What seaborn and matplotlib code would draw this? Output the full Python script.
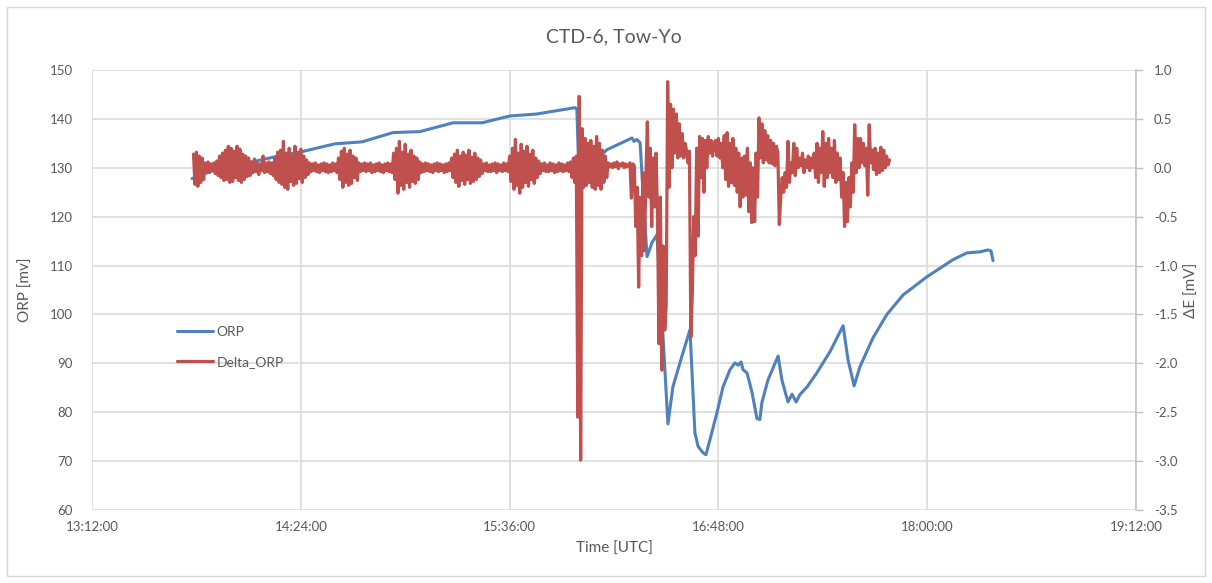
import numpy as np
import pandas as pd
import matplotlib
matplotlib.use("Agg")
import matplotlib.pyplot as plt
from matplotlib.ticker import FuncFormatter
import seaborn as sns

# ---------------- data ----------------
# time axis in minutes of day (13:12 = 792)
orp_time = [826.5, 835.4, 847.2, 858.6, 864.4, 875.8, 885.1, 895.8, 905.1, 916.5,
            926.5, 936.1, 945.4, 958.6, 959.2, 959.9, 962.0, 969.6, 978.2, 978.9,
            979.9, 981.0, 982.0, 983.4, 985.1, 986.8, 987.9, 988.9, 990.6, 992.3,
            995.4, 998.2, 999.9, 1001.0, 1002.7, 1003.7, 1005.1, 1007.5, 1009.6, 1012.0,
            1013.7, 1014.8, 1015.8, 1016.5, 1017.9, 1019.6, 1021.3, 1022.3, 1023.0, 1025.1,
            1028.6, 1029.9, 1031.0, 1032.0, 1033.4, 1034.8, 1036.1, 1038.6, 1042.0, 1046.5,
            1051.0, 1052.7, 1054.8, 1056.8, 1061.3, 1066.1, 1071.7, 1079.9, 1088.9, 1093.7,
            1098.2, 1101.0, 1102.0, 1102.7]
orp_value = [127.8, 129.8, 131.2, 132.7, 133.3, 134.9, 135.3, 137.2, 137.4, 139.2,
             139.2, 140.6, 141.0, 142.3, 141.9, 128.5, 129.5, 133.7, 136.1, 135.4,
             135.8, 135.1, 125.0, 111.8, 114.7, 116.3, 106.0, 95.5, 77.6, 85.2,
             91.4, 96.9, 75.8, 73.0, 71.7, 71.3, 74.4, 79.9, 85.2, 88.7,
             90.1, 89.6, 90.3, 88.7, 88.0, 84.0, 78.7, 78.5, 82.0, 86.6,
             91.5, 86.6, 84.2, 82.1, 83.7, 82.1, 83.6, 85.2, 88.1, 92.4,
             97.7, 90.7, 85.4, 89.3, 95.2, 100.0, 104.0, 107.7, 111.2, 112.6,
             112.8, 113.2, 113.0, 111.0]

# Delta_ORP sampled every 0.5 min from 13:47 (827) to 17:47 (1067)
delta_start = 827.0
delta_step = 0.5
delta_value = [
    0.14, -0.17, 0.16, -0.19, 0.12, -0.15, 0.10, -0.12, 0.05, -0.04, 0.06, -0.05, 0.04, -0.03, 0.05, -0.06, 0.07, -0.08, 0.12, -0.10,
    0.15, -0.13, 0.18, -0.12, 0.22, -0.15, 0.20, -0.14, 0.17, -0.10, 0.22, -0.13, 0.19, -0.15, 0.14, -0.12, 0.12, -0.09, 0.10, -0.08,
    0.06, -0.05, 0.09, -0.04, 0.05, -0.07, 0.04, -0.03, 0.12, -0.05, 0.05, -0.04, 0.06, -0.06, 0.05, -0.08, 0.10, -0.12, 0.16, -0.15,
    0.18, -0.17, 0.27, -0.20, 0.15, -0.22, 0.20, -0.14, 0.12, -0.18, 0.22, -0.16, 0.14, -0.11, 0.19, -0.15, 0.12, -0.10, 0.08, -0.07,
    0.05, -0.04, 0.04, -0.03, 0.05, -0.04, 0.03, -0.05, 0.04, -0.03, 0.05, -0.04, 0.04, -0.05, 0.03, -0.04, 0.05, -0.03, 0.04, -0.05,
    0.10, -0.12, 0.17, -0.20, 0.20, -0.15, 0.14, -0.18, 0.18, -0.16, 0.12, -0.10, 0.10, -0.13, 0.05, -0.04, 0.04, -0.03, 0.05, -0.04,
    0.04, -0.03, 0.05, -0.05, 0.03, -0.04, 0.04, -0.03, 0.05, -0.04, 0.03, -0.05, 0.04, -0.03, 0.05, -0.04, 0.04, -0.05, 0.15, -0.12,
    0.20, -0.26, 0.27, -0.18, 0.16, -0.22, 0.24, -0.15, 0.14, -0.20, 0.18, -0.14, 0.12, -0.16, 0.10, -0.12, 0.06, -0.05, 0.04, -0.04,
    0.05, -0.03, 0.04, -0.04, 0.03, -0.05, 0.04, -0.03, 0.05, -0.04, 0.04, -0.03, 0.03, -0.05, 0.04, -0.04, 0.05, -0.03, 0.10, -0.10,
    0.14, -0.15, 0.18, -0.19, 0.12, -0.13, 0.16, -0.17, 0.13, -0.12, 0.18, -0.16, 0.11, -0.14, 0.15, -0.12, 0.10, -0.09, 0.08, -0.06,
    0.04, -0.03, 0.05, -0.04, 0.03, -0.04, 0.04, -0.03, 0.05, -0.05, 0.04, -0.03, 0.03, -0.04, 0.05, -0.03, 0.04, -0.04, 0.12, -0.14,
    0.20, -0.22, 0.29, -0.18, 0.15, -0.26, 0.24, -0.20, 0.17, -0.15, 0.22, -0.19, 0.14, -0.12, 0.18, -0.16, 0.10, -0.10, 0.07, -0.06,
    0.04, -0.03, 0.05, -0.04, 0.03, -0.04, 0.05, -0.03, 0.04, -0.05, 0.03, -0.04, 0.05, -0.03, 0.04, -0.04, 0.03, -0.03, 0.05, -0.04,
    0.06, -0.10, 0.10, -0.15, 0.12, -2.55, 0.73, -2.99, 0.40, -0.20, 0.30, -0.18, 0.25, -0.15, 0.28, -0.20, 0.22, -0.22, 0.32, -0.18,
    0.25, -0.22, 0.18, -0.15, 0.12, -0.10, 0.05, 0.01, 0.04, 0.00, 0.05, 0.01, 0.06, -0.01, 0.04, 0.02, 0.05, 0.00, 0.04, 0.01,
    0.03, 0.05, -0.31, 0.04, 0.02, -0.60, -0.20, -1.22, -0.30, -0.90, -0.05, -0.85, -0.10, 0.47, -0.30, 0.20, -0.60, 0.10, -0.40, 0.15,
    -0.50, -1.80, -0.30, -2.07, -0.80, -1.66, -1.40, 0.88, -0.20, 0.65, 0.00, 0.60, 0.15, 0.55, 0.10, 0.45, 0.12, 0.35, 0.10, 0.25,
    0.18, 0.05, 0.17, -1.73, -1.30, -0.50, -0.90, 0.20, -0.70, 0.32, -0.10, 0.30, -0.25, 0.28, 0.00, 0.32, 0.15, 0.28, 0.12, 0.25,
    0.28, 0.12, 0.30, 0.10, 0.25, 0.00, 0.33, -0.12, 0.36, -0.19, 0.25, -0.15, 0.30, -0.18, 0.20, -0.25, 0.15, -0.40, 0.10, -0.30,
    0.12, -0.28, 0.20, -0.45, 0.05, -0.56, 0.00, -0.55, 0.15, -0.30, 0.51, 0.10, 0.45, 0.05, 0.38, 0.08, 0.33, 0.05, 0.28, 0.04,
    0.25, 0.02, 0.22, 0.15, -0.58, -0.30, -0.10, -0.25, -0.05, -0.20, 0.27, -0.15, 0.05, -0.05, 0.25, -0.08, 0.20, 0.00, 0.10, 0.02,
    0.15, -0.05, 0.08, 0.00, 0.12, -0.03, 0.10, 0.00, 0.15, -0.10, 0.25, -0.15, 0.20, -0.05, 0.37, -0.19, 0.25, -0.10, 0.30, -0.05,
    0.20, -0.10, 0.28, -0.15, 0.15, -0.12, 0.10, -0.30, -0.05, -0.60, -0.15, -0.55, -0.10, -0.40, 0.05, -0.25, 0.44, -0.05, 0.30, 0.00,
    0.30, 0.05, 0.25, 0.02, 0.20, -0.28, 0.44, 0.05, 0.18, -0.02, 0.20, -0.07, 0.15, -0.05, 0.21, -0.03, 0.18, 0.00, 0.12, 0.03,
    0.08,
]
delta_time = delta_start + delta_step * np.arange(len(delta_value))

x_ticks = [792, 864, 936, 1008, 1080, 1152]
left_ticks = [60, 70, 80, 90, 100, 110, 120, 130, 140, 150]
right_ticks = [-3.5, -3.0, -2.5, -2.0, -1.5, -1.0, -0.5, 0.0, 0.5, 1.0]

orp_df = pd.DataFrame({"time": orp_time, "ORP": orp_value})
delta_df = pd.DataFrame({"time": delta_time, "Delta_ORP": delta_value})

# ---------------- style ----------------
sns.set_theme(style="white")
plt.rcParams["font.family"] = ["Lato", "DejaVu Sans"]
plt.rcParams["axes.unicode_minus"] = False
TXT = "#595959"
GRID = "#d9d9d9"
BLUE = "#4f81bd"
RED = "#c0504d"

fig = plt.figure(figsize=(12.12, 5.83), dpi=100)
ax = fig.add_axes([92 / 1212, 1 - 510 / 583, (1136 - 92) / 1212, 440 / 583])
ax2 = ax.twinx()

sns.lineplot(data=orp_df, x="time", y="ORP", ax=ax, color=BLUE, linewidth=2.2,
             label="ORP", legend=False, zorder=3)
sns.lineplot(data=delta_df, x="time", y="Delta_ORP", ax=ax2, color=RED, linewidth=2.3,
             label="Delta_ORP", legend=False, zorder=3)

ax.set_xlim(792, 1152)
ax.set_ylim(60, 150)
ax2.set_ylim(-3.5, 1.0)
ax.set_xticks(x_ticks)
ax.set_yticks(left_ticks)
ax2.set_yticks(right_ticks)
ax.xaxis.set_major_formatter(FuncFormatter(lambda v, p: f"{int(v)//60:02d}:{int(v)%60:02d}:00"))
ax2.yaxis.set_major_formatter(FuncFormatter(lambda v, p: f"{v:.1f}"))

ax.grid(True, color=GRID, linewidth=1.1)
ax2.grid(False)
for a in (ax, ax2):
    for s in a.spines.values():
        s.set_visible(False)
ax2.spines["right"].set_visible(True)
ax2.spines["right"].set_color("#bfbfbf")
ax2.spines["right"].set_linewidth(1.1)

ax.tick_params(axis="both", length=0, labelsize=9.5, labelcolor=TXT, pad=8)
ax.tick_params(axis="y", pad=14)
ax2.tick_params(axis="y", length=5, width=1, color="#bfbfbf", direction="out",
                labelsize=9.5, labelcolor=TXT, pad=8)

ax.set_xlabel("Time [UTC]", fontsize=11, color=TXT, labelpad=6)
ax.set_ylabel("ORP [mv]", fontsize=11, color=TXT, labelpad=12)
ax2.set_ylabel("ΔE [mV]", fontsize=11, color=TXT, labelpad=5)
ax.set_title("CTD-6, Tow-Yo", fontsize=14, color=TXT, pad=20)

ax.set_zorder(ax2.get_zorder() - 1)
ax.patch.set_visible(False)
ax2.patch.set_visible(False)

h1, l1 = ax.get_legend_handles_labels()
h2, l2 = ax2.get_legend_handles_labels()
leg = ax2.legend(h1 + h2, l1 + l2, loc="upper left", bbox_to_anchor=(0.069, 0.447),
                 frameon=False, fontsize=10, labelcolor=TXT, handlelength=2.6,
                 handletextpad=0.3, labelspacing=1.3)

fig.patches.append(plt.Rectangle((0.006, 0.012), 0.988, 0.976, transform=fig.transFigure,
                                 fill=False, edgecolor="#d9d9d9", linewidth=1))

fig.savefig("out.png", dpi=100, facecolor="white")
